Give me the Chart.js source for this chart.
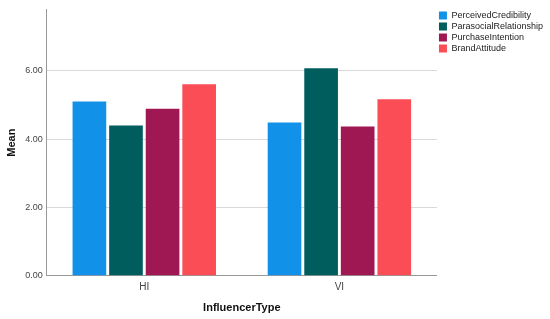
<!DOCTYPE html>
<html>
<head>
<meta charset="utf-8">
<script src="https://cdn.jsdelivr.net/npm/chart.js@4"></script>
<style>
  html, body { margin: 0; padding: 0; background: #fff; }
  #wrap { width: 550px; height: 319px; }
</style>
</head>
<body>
<div id="wrap"><canvas id="chart" width="550" height="319"></canvas></div>
<script>
// data
const categories = ['HI', 'VI'];
const seriesNames = ['PerceivedCredibility', 'ParasocialRelationship', 'PurchaseIntention', 'BrandAttitude'];
const perceivedCredibility = [5.10, 4.49];
const parasocialRelationship = [4.40, 6.08];
const purchaseIntention = [4.89, 4.37];
const brandAttitude = [5.61, 5.17];
const yTicks = [0, 2, 4, 6];

const colors = ['#1192e8', '#005d5d', '#9f1853', '#fa4d56'];
const values = [perceivedCredibility, parasocialRelationship, purchaseIntention, brandAttitude];

const ctx = document.getElementById('chart');
new Chart(ctx, {
  type: 'bar',
  data: {
    labels: categories,
    datasets: seriesNames.map((name, i) => ({
      label: name,
      data: values[i],
      backgroundColor: colors[i],
      borderColor: colors[i],
      borderWidth: 0,
      categoryPercentage: 0.75,
      barPercentage: 0.92
    }))
  },
  options: {
    responsive: false,
    animation: false,
    layout: { padding: { top: 9, left: 5, right: -3, bottom: 4 } },
    plugins: {
      tooltip: { enabled: false },
      legend: {
        position: 'right',
        align: 'start',
        labels: {
          boxWidth: 8,
          boxHeight: 8,
          padding: 2,
          color: '#222',
          font: { family: 'Liberation Sans, Arial', size: 9 }
        }
      }
    },
    scales: {
      x: {
        grid: { display: false, drawTicks: false },
        border: { color: '#999', width: 1 },
        ticks: { color: '#444', padding: 5, font: { family: 'Liberation Sans, Arial', size: 10 } },
        title: {
          display: true,
          text: 'InfluencerType',
          color: '#111',
          padding: { top: 4, bottom: 0 },
          font: { family: 'Liberation Sans, Arial', size: 11, weight: 'bold' }
        }
      },
      y: {
        min: 0,
        max: 7.8,
        afterBuildTicks: scale => { scale.ticks = yTicks.map(v => ({ value: v })); },
        grid: { color: '#d9d9d9', drawTicks: false },
        border: { color: '#999', width: 1 },
        ticks: {
          color: '#444',
          padding: 4,
          font: { family: 'Liberation Sans, Arial', size: 9 },
          callback: v => v.toFixed(2)
        },
        title: {
          display: true,
          text: 'Mean',
          color: '#111',
          padding: { top: 0, bottom: 3 },
          font: { family: 'Liberation Sans, Arial', size: 11, weight: 'bold' }
        }
      }
    }
  }
});
</script>
</body>
</html>
